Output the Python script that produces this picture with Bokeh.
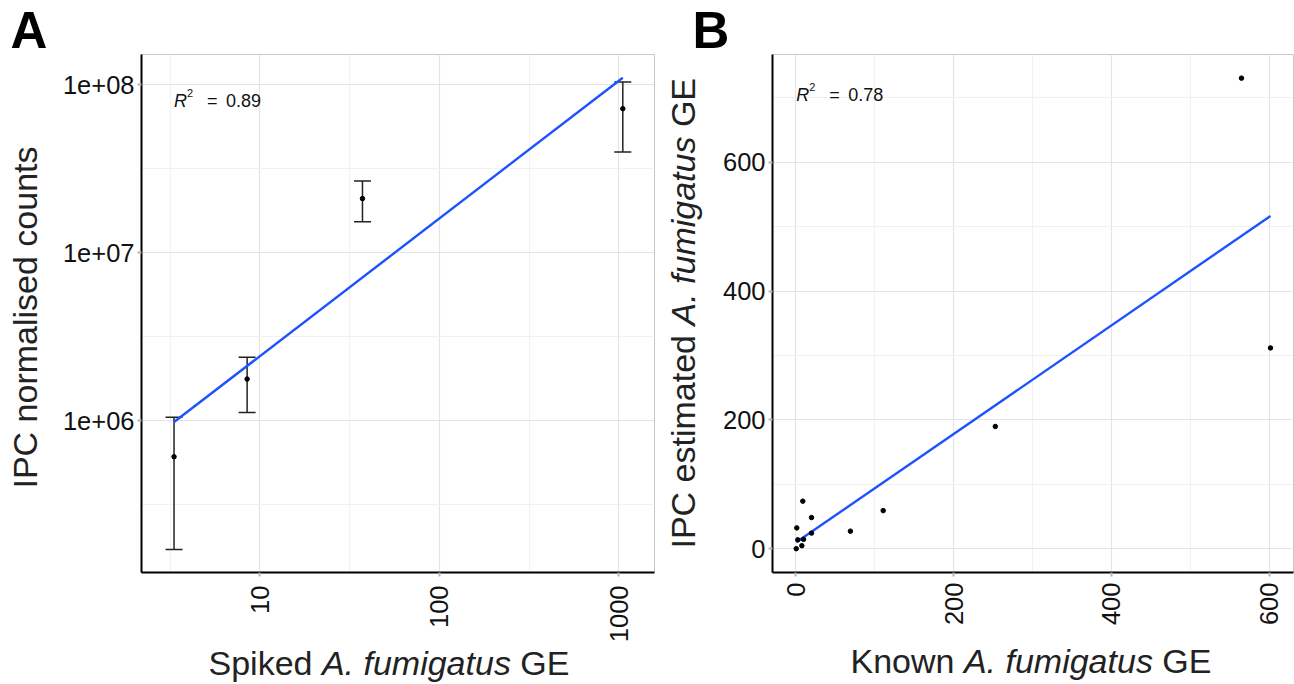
import math
import numpy as np
from bokeh.plotting import figure
from bokeh.models import ColumnDataSource, Range1d, FixedTicker, Whisker, TeeHead, Label
from bokeh.layouts import row, column
from bokeh.embed import file_html
from bokeh.resources import INLINE

# ---------------- Panel A data ----------------
spiked_ge = [3.33, 8.5, 37.3, 1050.0]
ipc_counts_mean = [6.1e5, 1.77e6, 2.1e7, 7.2e7]
ipc_counts_upper = [1.05e6, 2.39e6, 2.67e7, 1.04e8]
ipc_counts_lower = [1.71e5, 1.12e6, 1.53e7, 3.98e7]
a_xticks = [10, 100, 1000]
a_xtick_labels = ["10", "100", "1000"]
a_xminor = [10 ** 0.5, 10 ** 1.5, 10 ** 2.5]
a_yticks = [1e6, 1e7, 1e8]
a_ytick_labels = ["1e+06", "1e+07", "1e+08"]
a_yminor = [10 ** 5.5, 10 ** 6.5, 10 ** 7.5]
a_r2 = "0.89"

# ---------------- Panel B data ----------------
known_ge = [0.3, 1.0, 2.3, 7.4, 8.6, 9.5, 19.7, 19.7, 69.0, 110.6, 252.8, 565.0, 601.8]
ipc_estimated_ge = [0.0, 32.3, 13.8, 4.6, 73.8, 14.5, 24.2, 48.3, 27.2, 59.1, 189.8, 730.8, 311.8]
b_ticks = [0, 200, 400, 600]
b_tick_labels = ["0", "200", "400", "600"]
b_xminor = [100, 300, 500]
b_yminor = [100, 300, 500, 700]
b_r2 = "0.78"

FONT = "Liberation Sans"
TICK_SIZE = "25.5px"
TITLE_SIZE = "34px"
TICK_COLOR = "#111111"
TITLE_COLOR = "#222222"
LINE_BLUE = "#1F52FF"


def style_axis(ax):
    ax.axis_line_color = "black"
    ax.axis_line_width = 2
    ax.major_tick_line_color = "#B5B5B5"
    ax.major_tick_line_width = 2
    ax.major_tick_out = 4
    ax.major_tick_in = 0
    ax.minor_tick_line_color = None
    ax.major_label_text_font = FONT
    ax.major_label_text_font_size = TICK_SIZE
    ax.major_label_text_color = TICK_COLOR


def style_fig(p):
    p.background_fill_color = "white"
    p.border_fill_color = "white"
    p.outline_line_color = "#C8C8C8"
    p.outline_line_width = 1
    for g in (p.xgrid[0], p.ygrid[0]):
        g.grid_line_color = "#E4E4E4"
        g.grid_line_width = 1.2
        g.minor_grid_line_color = "#F1F1F1"
        g.minor_grid_line_width = 1


def lbl(p, text, x, y, size, style="normal", angle=0.0, align="left", xu="screen", x_offset=0, color=TITLE_COLOR):
    p.add_layout(Label(x=x, y=y, x_units=xu, y_units="screen", x_offset=x_offset, text=text,
                       text_font=FONT, text_font_size=size, text_font_style=style,
                       text_color=color, text_align=align, text_baseline="alphabetic", angle=angle))


def strip(w, h):
    s = figure(width=w, height=h, title=None, x_axis_location=None, y_axis_location=None,
               output_backend="svg", toolbar_location=None, min_border=0,
               x_range=Range1d(0, w), y_range=Range1d(0, h))
    s.grid.visible = False
    s.outline_line_color = None
    s.background_fill_color = "white"
    s.border_fill_color = "white"
    return s


# ================= Panel A =================
pa = figure(width=615, height=593, title=None, x_axis_type="log", y_axis_type="log",
            x_range=Range1d(10 ** 0.3413, 10 ** 3.1977), y_range=Range1d(10 ** 5.0963, 10 ** 8.180),
            output_backend="svg", toolbar_location=None,
            min_border_left=91, min_border_right=11, min_border_top=2, min_border_bottom=68)
style_fig(pa)
tax = FixedTicker(ticks=a_xticks, minor_ticks=a_xminor)
tay = FixedTicker(ticks=a_yticks, minor_ticks=a_yminor)
pa.xaxis.ticker = tax
pa.xgrid.ticker = tax
pa.yaxis.ticker = tay
pa.ygrid.ticker = tay
style_axis(pa.xaxis[0])
style_axis(pa.yaxis[0])
pa.xaxis.major_label_overrides = {t: s for t, s in zip(a_xticks, a_xtick_labels)}
pa.yaxis.major_label_overrides = {t: s for t, s in zip(a_yticks, a_ytick_labels)}
pa.xaxis.major_label_orientation = math.pi / 2
pa.xaxis.major_label_standoff = 9
pa.yaxis.major_label_standoff = 3

src_a = ColumnDataSource(dict(x=spiked_ge, y=ipc_counts_mean, upper=ipc_counts_upper, lower=ipc_counts_lower))
wa = Whisker(source=src_a, base="x", upper="upper", lower="lower", dimension="height",
             line_color="#222222", line_width=1.5,
             upper_head=TeeHead(size=17, line_color="#222222", line_width=1.5),
             lower_head=TeeHead(size=17, line_color="#222222", line_width=1.5))
pa.add_layout(wa)

lx = np.log10(spiked_ge)
ly = np.log10(ipc_counts_mean)
ka, ba = np.polyfit(lx, ly, 1)
fit_x_a = [min(spiked_ge), max(spiked_ge)]
fit_y_a = [10 ** (ka * np.log10(v) + ba) for v in fit_x_a]
pa.line(fit_x_a, fit_y_a, line_color=LINE_BLUE, line_width=2.4)
pa.scatter(spiked_ge, ipc_counts_mean, size=4.5, color="black")

xa0 = min(spiked_ge)
lbl(pa, "R", xa0, 472, "18px", style="italic", xu="data", color="#111111")
lbl(pa, "2", xa0, 480, "11px", xu="data", x_offset=13, color="#111111")
lbl(pa, "=", xa0, 472, "18px", xu="data", x_offset=33, color="#111111")
lbl(pa, a_r2, xa0, 472, "18px", xu="data", x_offset=52, color="#111111")

# ================= Panel B =================
pb = figure(width=589, height=593, title=None,
            x_range=Range1d(-29.8, 631.0), y_range=Range1d(-37.0, 767.5),
            output_backend="svg", toolbar_location=None,
            min_border_left=67, min_border_right=1, min_border_top=2, min_border_bottom=68)
style_fig(pb)
tbx = FixedTicker(ticks=b_ticks, minor_ticks=b_xminor)
tby = FixedTicker(ticks=b_ticks, minor_ticks=b_yminor)
pb.xaxis.ticker = tbx
pb.xgrid.ticker = tbx
pb.yaxis.ticker = tby
pb.ygrid.ticker = tby
style_axis(pb.xaxis[0])
style_axis(pb.yaxis[0])
pb.xaxis.major_label_overrides = {t: s for t, s in zip(b_ticks, b_tick_labels)}
pb.yaxis.major_label_overrides = {t: s for t, s in zip(b_ticks, b_tick_labels)}
pb.xaxis.major_label_orientation = math.pi / 2
pb.xaxis.major_label_standoff = 6
pb.yaxis.major_label_standoff = 3

kb, bb = np.polyfit(known_ge, ipc_estimated_ge, 1)
fit_x_b = [min(known_ge), max(known_ge)]
fit_y_b = [kb * v + bb for v in fit_x_b]
pb.line(fit_x_b, fit_y_b, line_color=LINE_BLUE, line_width=2.4)
pb.scatter(known_ge, ipc_estimated_ge, size=4.5, color="black")

xb0 = min(known_ge)
lbl(pb, "R", xb0, 478, "18px", style="italic", xu="data", color="#111111")
lbl(pb, "2", xb0, 486, "11px", xu="data", x_offset=13, color="#111111")
lbl(pb, "=", xb0, 478, "18px", xu="data", x_offset=33, color="#111111")
lbl(pb, b_r2, xb0, 478, "18px", xu="data", x_offset=52, color="#111111")

# ================= title strips =================
top = strip(1294, 52)
lbl(top, "A", 10, 22.5, "51px", style="bold", color="black")
lbl(top, "B", 692, 22.5, "51px", style="bold", color="black")

# side strips: their frames are aligned with the plot frames (bottom at frame bottom)
a_left = strip(50, 593)
lbl(a_left, "IPC normalised counts", 24.5, 255, TITLE_SIZE, angle=math.pi / 2, align="center")

b_left = strip(40, 593)
lbl(b_left, "IPC estimated", 17.5, 24, TITLE_SIZE, angle=math.pi / 2)
lbl(b_left, "A. fumigatus", 17.5, 24 + 223.0, TITLE_SIZE, style="italic", angle=math.pi / 2)
lbl(b_left, "GE", 17.5, 24 + 421.4, TITLE_SIZE, angle=math.pi / 2)

bottom = strip(1294, 39)
lbl(bottom, "Spiked", 208, 22, TITLE_SIZE)
lbl(bottom, "A. fumigatus", 208 + 113.4, 22, TITLE_SIZE, style="italic")
lbl(bottom, "GE", 208 + 311.8, 22, TITLE_SIZE)
lbl(bottom, "Known", 850, 24, TITLE_SIZE)
lbl(bottom, "A. fumigatus", 850 + 113.4, 24, TITLE_SIZE, style="italic")
lbl(bottom, "GE", 850 + 311.8, 24, TITLE_SIZE)

layout = column(top, row(a_left, pa, b_left, pb), bottom)
open("out.html", "w").write(file_html(layout, INLINE))
